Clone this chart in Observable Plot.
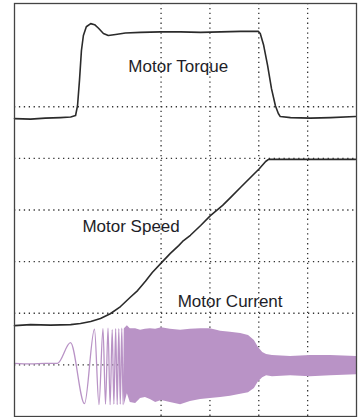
<!DOCTYPE html>
<html><head><meta charset="utf-8">
<script src="https://cdn.jsdelivr.net/npm/d3@7"></script>
<script src="https://cdn.jsdelivr.net/npm/@observablehq/plot@0.6"></script>
<style>html,body{margin:0;padding:0;background:#fff;overflow:hidden}</style>
</head><body><div id="chart"></div>
<script>
// time in scope divisions, value in scope divisions
const vGrid = [3, 4, 5, 6];
const hGrid = [1, 2, 3, 4, 5, 6];

const torqueT = [0,0.33,0.63,0.94,1.15,1.25,1.29,1.33,1.37,1.41,1.47,1.56,1.64,1.72,1.82,1.92,2.07,2.27,2.58,2.99,3.40,3.81,4.22,4.63,4.99,5.03,5.10,5.18,5.26,5.34,5.40,5.44,5.65,6.06,6.47,6.98];
const torqueV = [5.77,5.76,5.78,5.79,5.80,5.83,6.02,6.51,7.09,7.38,7.55,7.61,7.59,7.52,7.42,7.38,7.40,7.43,7.44,7.45,7.45,7.44,7.45,7.46,7.46,7.42,7.19,6.80,6.35,6.02,5.87,5.81,5.79,5.78,5.79,5.81];

const speedT = [0,0.33,0.74,1.15,1.35,1.56,1.76,1.96,2.17,2.37,2.52,2.68,2.82,3.01,3.19,3.36,3.44,3.60,3.81,4.01,4.26,4.42,4.63,4.83,5.01,5.14,5.20,5.65,6.26,6.98];
const speedV = [1.76,1.78,1.77,1.78,1.80,1.84,1.90,1.99,2.13,2.31,2.44,2.62,2.79,2.98,3.16,3.31,3.39,3.51,3.70,3.89,4.09,4.24,4.44,4.63,4.80,4.94,4.98,4.98,4.98,4.98];

// start-up current: individual swings (extremes)
const chirpT = [0,0.33,0.63,0.88,1.146,1.433,1.637,1.729,1.811,1.863,1.914,1.957,2.000,2.034,2.071,2.102,2.135,2.165,2.196,2.223,2.251];
const chirpV = [1.03,1.02,1.03,1.03,1.43,0.25,1.69,0.23,1.70,0.24,1.71,0.23,1.68,0.24,1.70,0.23,1.70,0.24,1.71,0.23,1.70];

// dense current: envelope
const bandT  = [2.25,2.31,2.37,2.48,2.58,2.68,2.78,2.89,3.01,3.19,3.40,3.60,3.81,4.01,4.22,4.42,4.63,4.79,4.91,4.99,5.08,5.16,5.28,5.65,6.06,6.47,7.0];
const bandHi = [1.70,1.76,1.70,1.70,1.67,1.69,1.70,1.69,1.72,1.69,1.67,1.69,1.70,1.70,1.65,1.63,1.61,1.57,1.47,1.34,1.24,1.20,1.18,1.16,1.18,1.18,1.16];
const bandLo = [0.23,0.44,0.27,0.25,0.35,0.37,0.33,0.27,0.31,0.27,0.23,0.29,0.33,0.35,0.37,0.39,0.43,0.46,0.54,0.67,0.75,0.79,0.77,0.79,0.77,0.79,0.81];

const labelText = ["Motor Torque", "Motor Speed", "Motor Current"];
const labelT = [2.33, 1.39, 3.34];
const labelV = [6.68, 3.58, 2.13];

const zip = (a, b) => a.map((t, i) => ({t, v: b[i]}));
const torque = zip(torqueT, torqueV);
const speed = zip(speedT, speedV);
const chirp = zip(chirpT, chirpV);
const band = bandT.map((t, i) => ({t, hi: bandHi[i], lo: bandLo[i]}));
const labels = labelText.map((s, i) => ({s, t: labelT[i], v: labelV[i]}));

const purple = "#b993c6";
const grid = {stroke: "#333", strokeWidth: 1.3, strokeDasharray: "1.3,3.6"};

const plot = Plot.plot({
  width: 364, height: 417,
  marginLeft: 14, marginRight: 8, marginTop: 3, marginBottom: 1,
  x: {domain: [0, 7], axis: null},
  y: {domain: [0, 8], axis: null},
  style: {background: "white"},
  marks: [
    Plot.ruleX(vGrid, grid),
    Plot.ruleY(hGrid, grid),
    Plot.areaY(band, {x: "t", y1: "lo", y2: "hi", fill: purple}),
    Plot.line(chirp, {x: "t", y: "v", stroke: purple, strokeWidth: 1.3, curve: "monotone-x"}),
    Plot.line(torque, {x: "t", y: "v", stroke: "#2b2b2b", strokeWidth: 1.6}),
    Plot.line(speed, {x: "t", y: "v", stroke: "#2b2b2b", strokeWidth: 1.6}),
    Plot.text(labels, {x: "t", y: "v", text: "s", textAnchor: "start", lineAnchor: "bottom",
      fontSize: 17, fontFamily: "Liberation Sans, Arial, sans-serif", fill: "#1e1e28"}),
    Plot.frame({stroke: "#444", strokeWidth: 1.3})
  ]
});
document.getElementById("chart").appendChild(plot);
</script>
</body></html>
